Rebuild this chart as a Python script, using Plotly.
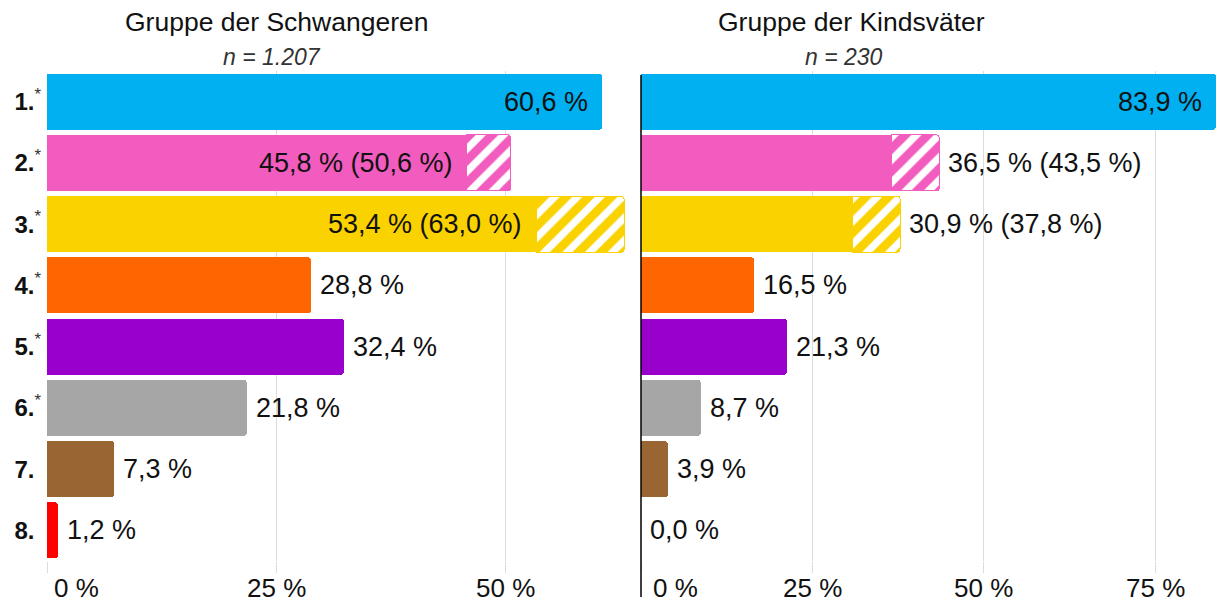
import plotly.graph_objects as go

# ---------------- data ----------------
categories = ["1.", "2.", "3.", "4.", "5.", "6.", "7.", "8."]
significant = [True, True, True, True, True, True, False, False]
bar_colors = ["#00B0F0", "#F25CBE", "#FAD200", "#FF6600",
              "#9900CC", "#A6A6A6", "#996633", "#FF0000"]

pregnant_values = [60.6, 45.8, 53.4, 28.8, 32.4, 21.8, 7.3, 1.2]
pregnant_extended = [None, 50.6, 63.0, None, None, None, None, None]
fathers_values = [83.9, 36.5, 30.9, 16.5, 21.3, 8.7, 3.9, 0.0]
fathers_extended = [None, 43.5, 37.8, None, None, None, None, None]

ticks_left = [0, 25, 50]
ticks_right = [0, 25, 50, 75]
titles = ["Gruppe der Schwangeren", "Gruppe der Kindsväter"]
sample_sizes = ["n = 1.207", "n = 230"]

# ---------------- layout geometry ----------------
W, H = 1216, 602
ML, MR, MT, MB = 47, 0, 71, 41
PW = W - ML - MR
PH = H - MT - MB
left_dom = [0, (625 - ML) / PW]
right_dom = [(641 - ML) / PW, 1]
left_range = [0, 63.1]
right_range = [0, 83.9]

FONT = "Liberation Sans, Arial, sans-serif"
GRID = "#dcdcdc"
VAL_SIZE = 27


def fmt(v):
    return f"{v:.1f}".replace(".", ",") + " %"


def px_per_unit(dom, rng):
    return (dom[1] - dom[0]) * PW / (rng[1] - rng[0])


def py(pixel_y):
    return (H - MB - pixel_y) / PH


fig = go.Figure()
annotations = []

panels = [
    (pregnant_values, pregnant_extended, "x", "y", left_dom, left_range),
    (fathers_values, fathers_extended, "x2", "y2", right_dom, right_range),
]

for values, extended, xa, ya, dom, rng in panels:
    fig.add_trace(go.Bar(
        y=categories, x=values, orientation="h",
        marker=dict(color=bar_colors, line=dict(width=0)),
        xaxis=xa, yaxis=ya, hoverinfo="skip", showlegend=False,
    ))
    idx = [i for i, e in enumerate(extended) if e is not None]
    for i in idx:
        fig.add_trace(go.Bar(
            y=[categories[i]], x=[extended[i] - values[i]], orientation="h",
            marker=dict(color=bar_colors[i],
                        line=dict(color=bar_colors[i], width=1),
                        pattern=dict(shape="/", fgcolor="white", fgopacity=1,
                                     size=16, solidity=0.45, fillmode="overlay")),
            xaxis=xa, yaxis=ya, hoverinfo="skip", showlegend=False,
        ))
    # value labels (y given as category index)
    scale = px_per_unit(dom, rng)
    axis_end_px = (rng[1] - rng[0]) * scale
    for i, v in enumerate(values):
        e = extended[i]
        text = fmt(v) if e is None else f"{fmt(v)} ({fmt(e)})"
        end = v if e is None else e
        est_w = len(text) * 14
        if end * scale + 9 + est_w > axis_end_px:
            annotations.append(dict(x=v, y=i, xref=xa, yref=ya,
                                    text=text, showarrow=False, xanchor="right",
                                    yanchor="middle", xshift=-12,
                                    font=dict(size=VAL_SIZE, color="#111", family=FONT)))
        else:
            annotations.append(dict(x=end, y=i, xref=xa, yref=ya,
                                    text=text, showarrow=False, xanchor="left",
                                    yanchor="middle", xshift=7,
                                    font=dict(size=VAL_SIZE, color="#111", family=FONT)))

# tick label annotations
for tv, xa, zero_shift in [(ticks_left, "x", 5), (ticks_right, "x2", 10)]:
    for t in tv:
        if t == 0:
            annotations.append(dict(x=t, y=py(588), xref=xa, yref="paper",
                                    text=f"{t} %", showarrow=False, xanchor="left",
                                    yanchor="middle", xshift=zero_shift,
                                    font=dict(size=26, color="#111", family=FONT)))
        else:
            annotations.append(dict(x=t, y=py(588), xref=xa, yref="paper",
                                    text=f"{t} %", showarrow=False, xanchor="center",
                                    yanchor="middle",
                                    font=dict(size=26, color="#111", family=FONT)))

# titles
for title, n, cx, ncx in [(titles[0], sample_sizes[0], 276, 272),
                          (titles[1], sample_sizes[1], 851, 844)]:
    annotations.append(dict(x=(cx - ML) / PW, y=py(22), xref="paper", yref="paper",
                            text=title, showarrow=False, xanchor="center",
                            yanchor="middle",
                            font=dict(size=26.5, color="#111", family=FONT)))
    annotations.append(dict(x=(ncx - ML) / PW, y=py(57), xref="paper", yref="paper",
                            text=f"<i>{n}</i>", showarrow=False, xanchor="center",
                            yanchor="middle",
                            font=dict(size=23, color="#333", family=FONT)))

ticktext = []
for c, s in zip(categories, significant):
    star_col = "#333" if s else "rgba(0,0,0,0)"
    ticktext.append(f"<b>{c}</b><sup><span style='color:{star_col}'>*</span></sup>")

n_cat = len(categories)
fig.update_layout(
    width=W, height=H, template="none",
    margin=dict(l=ML, r=MR, t=MT, b=MB, pad=0),
    paper_bgcolor="white", plot_bgcolor="white",
    barmode="stack", bargap=0.085, barcornerradius=3,
    font=dict(family=FONT, size=26, color="#111"),
    showlegend=False,
    xaxis=dict(domain=left_dom, range=left_range, anchor="y",
               tickvals=ticks_left, showticklabels=False,
               showgrid=True, gridcolor=GRID, gridwidth=1,
               ticks="outside", ticklen=11, tickcolor=GRID, tickwidth=1,
               zeroline=False, showline=False, automargin=False, fixedrange=True),
    xaxis2=dict(domain=right_dom, range=right_range, anchor="y2",
                tickvals=ticks_right, showticklabels=False,
                showgrid=True, gridcolor=GRID, gridwidth=1,
                ticks="outside", ticklen=11, tickcolor=GRID, tickwidth=1,
                zeroline=False, showline=False, automargin=False, fixedrange=True),
    yaxis=dict(domain=[0, 1], anchor="x", type="category",
               categoryorder="array", categoryarray=categories,
               range=[n_cat - 0.5, -0.5], tickvals=categories, ticktext=ticktext,
               tickfont=dict(size=24, color="#111", family=FONT),
               ticks="", ticklabelstandoff=5, showgrid=False, zeroline=False,
               showline=False, automargin=False, fixedrange=True),
    yaxis2=dict(domain=[0, 1], anchor="x2", type="category",
                categoryorder="array", categoryarray=categories,
                range=[n_cat - 0.5, -0.5],
                showticklabels=False, ticks="", showgrid=False, zeroline=False,
                showline=False, automargin=False, fixedrange=True),
    annotations=annotations,
    shapes=[dict(type="line", xref="paper", yref="paper",
                 x0=right_dom[0], x1=right_dom[0], y0=py(75), y1=py(597),
                 line=dict(color="black", width=1.5), layer="above")],
)

fig.write_html("out.html",
               config={"displayModeBar": False},
               post_script="document.body.style.margin='0px';"
                           "document.body.style.overflow='hidden';")
